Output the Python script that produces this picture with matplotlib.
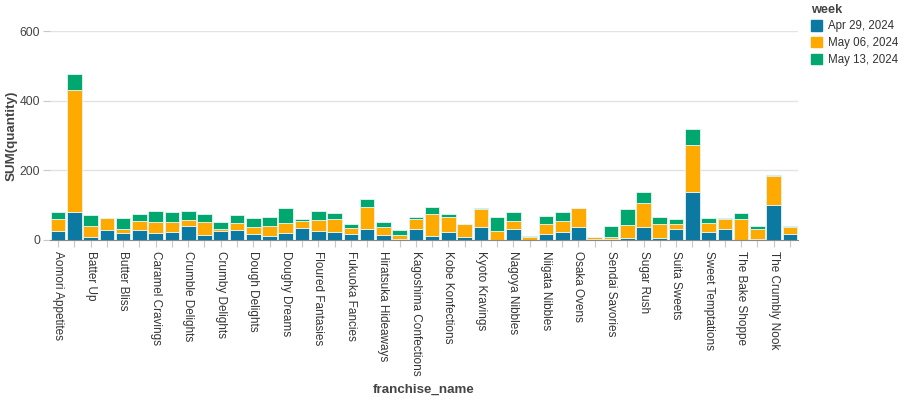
import matplotlib.pyplot as plt
import matplotlib.patches as mpatches
import numpy as np

plt.rcParams['font.family'] = ['Liberation Sans', 'DejaVu Sans']

franchise_names = [
    "Aomori Appetites", "Bake My Day", "Batter Up", "Bread Basket", "Butter Bliss",
    "Cake Corner", "Caramel Cravings", "Cookie Cottage", "Crumble Delights", "Crumbly Corner",
    "Crumby Delights", "Delightful Bakes", "Dough Delights", "Doughnut Haven", "Doughy Dreams",
    "Flaky Treats", "Floured Fantasies", "Frosted Fancies", "Fukuoka Fancies", "Golden Crust",
    "Hiratsuka Hideaways", "Hokkaido Honeys", "Kagoshima Confections", "Kanazawa Kakes",
    "Kobe Konfections", "Kumamoto Kookies", "Kyoto Kravings", "Nagano Nosh", "Nagoya Nibbles",
    "Nara Nuggets", "Niigata Nibbles", "Okayama Oven", "Osaka Ovens", "Sapporo Sweets",
    "Sendai Savories", "Sprinkle Shop", "Sugar Rush", "Sugary Spot", "Suita Sweets",
    "Sweet Spot", "Sweet Temptations", "Tasty Treats", "The Bake Shoppe", "The Bread Box",
    "The Crumbly Nook", "The Sweet Spot",
]

weeks = ["Apr 29, 2024", "May 06, 2024", "May 13, 2024"]

qty_apr29 = [27, 79, 10, 30, 21, 29, 19, 24, 39, 15,
             27, 30, 18, 12, 21, 35, 27, 22, 17, 33,
             15, 2, 33, 11, 24, 9, 38, 1, 32, 1,
             17, 24, 36, 2, 3, 6, 38, 5, 32, 137,
             24, 31, 1, 3, 101, 17]
qty_may06 = [33, 351, 29, 33, 12, 25, 33, 27, 18, 37,
             6, 19, 20, 28, 28, 20, 31, 38, 17, 61,
             23, 12, 26, 63, 42, 37, 51, 26, 23, 7,
             28, 30, 57, 7, 7, 36, 68, 41, 15, 137,
             25, 29, 60, 29, 83, 20]
qty_may13 = [20, 47, 34, 0, 30, 20, 30, 30, 26, 23,
             18, 22, 26, 25, 42, 6, 24, 18, 12, 25,
             13, 15, 6, 20, 9, 0, 4, 38, 25, 4,
             23, 25, 0, 1, 31, 47, 32, 19, 13, 44,
             14, 3, 16, 7, 3, 3]

colors = ["#0b79a1", "#ffaa00", "#00a870"]

fig = plt.figure(figsize=(9.09, 4.0), dpi=100)
ax = fig.add_axes([50 / 909, 160 / 400, 748 / 909, 209 / 400])

x = np.arange(len(franchise_names))
bottom = np.zeros(len(x))
for vals, col, wk in zip([qty_apr29, qty_may06, qty_may13], colors, weeks):
    vals = np.array(vals, dtype=float)
    ax.bar(x, vals, bottom=bottom, width=0.9, color=col, edgecolor="#e8f4f0",
           linewidth=0.6, label=wk, zorder=2)
    bottom += vals

ax.set_xlim(-0.5, len(x) - 0.5)
ax.set_ylim(0, 600)
ax.set_yticks([0, 200, 400, 600])
ax.yaxis.grid(True, color="#e3e3e3", linewidth=1, zorder=0)
ax.set_axisbelow(True)

ax.set_xticks(x)
ax.set_xticklabels([n if i % 2 == 0 else "" for i, n in enumerate(franchise_names)],
                   rotation=-90, fontsize=8.5, color="#333333")
ax.tick_params(axis="x", length=5, color="#c8c8c8", pad=3)
ax.tick_params(axis="y", length=5, color="#c8c8c8", labelsize=8.7, labelcolor="#444444", pad=2)

for s in ["top", "right", "left"]:
    ax.spines[s].set_visible(False)
ax.spines["bottom"].set_color("#888888")

ax.set_ylabel("SUM(quantity)", fontsize=9.6, fontweight="bold", color="#444444")
ax.yaxis.set_label_coords(-32 / 748, 0.5)
ax.set_xlabel("franchise_name", fontsize=9.6, fontweight="bold", color="#444444", labelpad=6)

handles = [mpatches.Patch(color=c, label=w) for c, w in zip(colors, weeks)]
leg = fig.legend(handles=handles, title="week", loc="upper left",
                 bbox_to_anchor=(804 / 909, 1.008), frameon=False, fontsize=8.3,
                 handlelength=1.0, handleheight=1.0, handletextpad=0.5,
                 labelspacing=0.4, borderaxespad=0.2, alignment="left")
leg.get_title().set_fontweight("bold")
leg.get_title().set_fontsize(9.2)
leg.get_title().set_color("#444444")
for t in leg.get_texts():
    t.set_color("#333333")

fig.savefig("out.png", dpi=100)
